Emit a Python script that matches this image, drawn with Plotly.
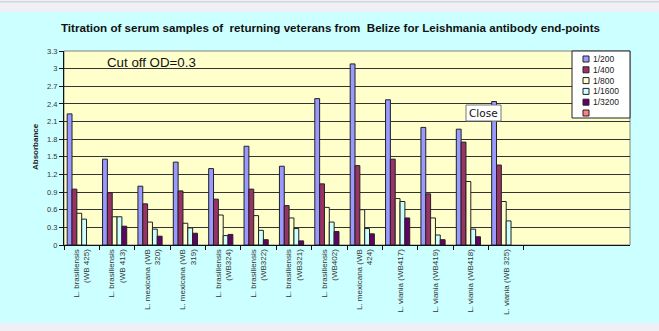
import plotly.graph_objects as go

# ---------------- data ----------------
categories = [
    "L. brasiliensis<br>(WB 425)",
    "L. brasiliensis<br>(WB 413)",
    "L. mexicana (WB<br>320)",
    "L. mexicana (WB<br>319)",
    "L. brasiliensis<br>(WB324)",
    "L. brasiliensis<br>(WB322)",
    "L. brasiliensis<br>(WB321)",
    "L. brasiliensis<br>(WB402)",
    "L. mexicana (WB<br>424)",
    "L. viania (WB417)",
    "L. viania (WB419)",
    "L. viania (WB418)",
    "L. viania (WB 325)",
]
series_names = ["1/200", "1/400", "1/800", "1/1600", "1/3200", ""]
s200 = [2.23, 1.46, 1.00, 1.41, 1.30, 1.68, 1.34, 2.49, 3.08, 2.47, 2.00, 1.97, 2.44]
s400 = [0.95, 0.89, 0.70, 0.92, 0.78, 0.95, 0.67, 1.04, 1.35, 1.46, 0.87, 1.75, 1.36]
s800 = [0.54, 0.48, 0.39, 0.37, 0.51, 0.50, 0.46, 0.64, 0.60, 0.79, 0.46, 1.08, 0.74]
s1600 = [0.44, 0.48, 0.27, 0.29, 0.16, 0.25, 0.28, 0.39, 0.28, 0.74, 0.17, 0.27, 0.41]
s3200 = [None, 0.32, 0.15, 0.20, 0.18, 0.09, 0.07, 0.23, 0.19, 0.46, 0.09, 0.14, None]
s_blank = [None] * 13
y_ticks = [0, 0.3, 0.6, 0.9, 1.2, 1.5, 1.8, 2.1, 2.4, 2.7, 3.0, 3.3]
y_tick_text = ["0", "0.3", "0.6", "0.9", "1.2", "1.5", "1.8", "2.1", "2.4", "2.7", "3", "3.3"]
title_text = "Titration of serum samples of  returning veterans from  Belize for Leishmania antibody end-points"
cutoff_text = "Cut off OD=0.3"
y_title = "Absorbance"

# ---------------- styling ----------------
W, H = 659, 331
L, R, T, B = 64, 29, 51, 86
PW, PH = W - L - R, H - T - B
colors = ["#9999ff", "#993366", "#ffffcc", "#ccffff", "#660066", "#ff8080"]
all_series = [s200, s400, s800, s1600, s3200, s_blank]


def px_x(px):
    return (px - L) / PW


def px_y(py):
    return (H - B - py) / PH


fig = go.Figure()
for name, vals, col in zip(series_names, all_series, colors):
    fig.add_trace(go.Bar(
        x=categories, y=vals, name=name,
        marker=dict(color=col, line=dict(color="#222222", width=1)),
        showlegend=False,
    ))

shapes = []
# gray bands top/bottom (browser chrome look)
shapes.append(dict(type="rect", xref="paper", yref="paper",
                   x0=px_x(0), x1=px_x(W), y0=px_y(0), y1=px_y(12),
                   fillcolor="#efeff5", line=dict(width=0), layer="above"))
shapes.append(dict(type="rect", xref="paper", yref="paper",
                   x0=px_x(0), x1=px_x(W), y0=px_y(1), y1=px_y(2.5),
                   fillcolor="#d4d4dc", line=dict(width=0), layer="above"))
shapes.append(dict(type="rect", xref="paper", yref="paper",
                   x0=px_x(0), x1=px_x(W), y0=px_y(323), y1=px_y(H),
                   fillcolor="#efeff5", line=dict(width=0), layer="above"))
# plot border (gray top/right)
shapes.append(dict(type="rect", xref="paper", yref="paper",
                   x0=0, x1=1, y0=0, y1=1,
                   fillcolor="rgba(0,0,0,0)", line=dict(color="#808080", width=1),
                   layer="below"))

annotations = []
# legend box
lg_x0, lg_x1, lg_y0, lg_y1 = 572, 630, 51, 118
shapes.append(dict(type="rect", xref="paper", yref="paper",
                   x0=px_x(lg_x0), x1=px_x(lg_x1), y0=px_y(lg_y1), y1=px_y(lg_y0),
                   fillcolor="white", line=dict(color="#222222", width=1), layer="above"))
for i, (name, col) in enumerate(zip(series_names, colors)):
    cy = 59 + i * 10.8
    shapes.append(dict(type="rect", xref="paper", yref="paper",
                       x0=px_x(583), x1=px_x(589), y0=px_y(cy + 3), y1=px_y(cy - 3),
                       fillcolor=col, line=dict(color="#222222", width=1), layer="above"))
    if name:
        annotations.append(dict(text=name, xref="paper", yref="paper",
                                x=px_x(591), y=px_y(cy), xanchor="left", yanchor="middle",
                                showarrow=False,
                                font=dict(family="Liberation Sans, Arial", size=8.5, color="#222")))

# "Close" tooltip
shapes.append(dict(type="rect", xref="paper", yref="paper",
                   x0=px_x(466), x1=px_x(501), y0=px_y(121), y1=px_y(105),
                   fillcolor="white", line=dict(color="#767676", width=1), layer="above"))
annotations.append(dict(text="Close", xref="paper", yref="paper",
                        x=px_x(483.5), y=px_y(113), xanchor="center", yanchor="middle",
                        showarrow=False,
                        font=dict(family="DejaVu Sans, Liberation Sans", size=10.5, color="#111")))

# title
annotations.append(dict(text="<b>" + title_text + "</b>", xref="paper", yref="paper",
                        x=px_x(330), y=px_y(28), xanchor="center", yanchor="middle",
                        showarrow=False,
                        font=dict(family="Liberation Sans, Arial", size=11.6, color="#111")))
# cut off
annotations.append(dict(text=cutoff_text, xref="paper", yref="paper",
                        x=px_x(105), y=px_y(62), xanchor="left", yanchor="middle",
                        showarrow=False,
                        font=dict(family="Liberation Sans, Arial", size=13.3, color="#111")))
# y title
annotations.append(dict(text="<b>" + y_title + "</b>", xref="paper", yref="paper",
                        x=px_x(35), y=px_y(147), xanchor="center", yanchor="middle",
                        textangle=-90, showarrow=False,
                        font=dict(family="Liberation Sans Narrow, Arial Narrow, Liberation Sans", size=8, color="#222")))

fig.update_layout(
    width=W, height=H,
    margin=dict(l=L, r=R, t=T, b=B, pad=0),
    paper_bgcolor="#ccffff", plot_bgcolor="#ffffcc",
    barmode="group", bargap=0.18, bargroupgap=0,
    shapes=shapes, annotations=annotations,
    showlegend=False,
    font=dict(family="Liberation Sans, Arial", color="#222"),
)
fig.update_xaxes(
    type="category", categoryorder="array", categoryarray=categories,
    range=[-0.5, 15.5], tickson="boundaries", ticks="outside", ticklen=4,
    tickcolor="#111", showline=True, linecolor="#111", linewidth=1,
    showgrid=False, tickangle=-90, zeroline=False, automargin=False,
    tickfont=dict(family="Liberation Sans Narrow, Arial Narrow, Liberation Sans", size=8, color="#333"),
)
fig.update_yaxes(
    range=[0, 3.3], tickvals=y_ticks, ticktext=y_tick_text,
    ticks="outside", ticklen=4, tickcolor="#111", automargin=False,
    showline=True, linecolor="#111", linewidth=1,
    showgrid=True, gridcolor="#333333", gridwidth=1, zeroline=False,
    tickfont=dict(family="Liberation Sans, Arial", size=7.5, color="#333"),
)

fig.write_html("out.html")
